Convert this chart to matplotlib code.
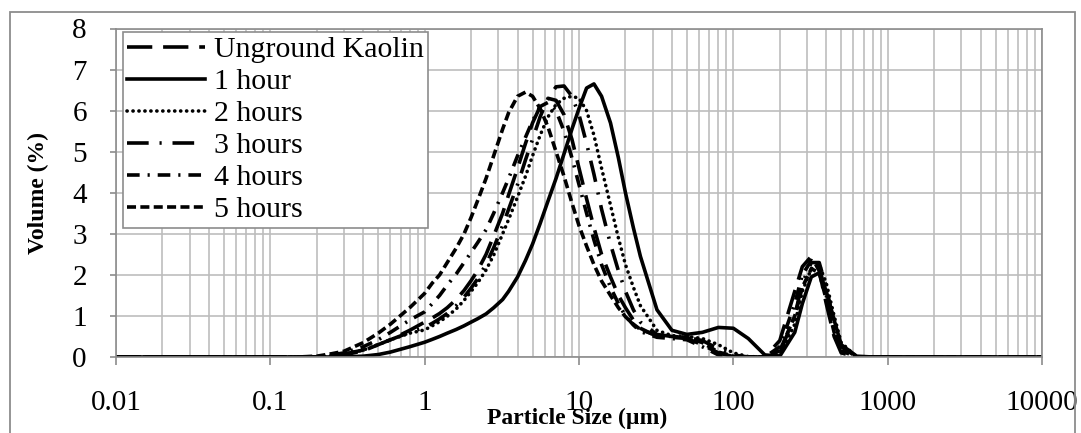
import matplotlib
matplotlib.use("Agg")
import matplotlib.pyplot as plt
from matplotlib.patches import Rectangle

plt.rcParams['font.family'] = ['Liberation Serif', 'DejaVu Serif']

# Particle size grid (µm)
sizes = [0.01, 0.15, 0.2, 0.25, 0.3, 0.4, 0.5, 0.6, 0.8,
         1.0, 1.12, 1.25, 1.4, 1.6, 1.8, 2.0, 2.2, 2.5, 2.8,
         3.2, 3.5, 4.0, 4.5, 5.0, 5.6, 6.3, 7.1, 8.0, 9.0,
         10, 11.2, 12.5, 14, 16, 18, 20, 22.5, 25,
         32, 40, 50, 63, 80, 100, 125, 160, 200, 250,
         280, 320, 360, 400, 450, 500, 630, 800, 10000]

unground = [0, 0, 0, 0.02, 0.05, 0.15, 0.3, 0.42, 0.65,
            0.85, 0.95, 1.06, 1.2, 1.4, 1.62, 1.86, 2.1, 2.5, 2.95,
            3.5, 3.95, 4.6, 5.2, 5.7, 6.1, 6.3, 6.25, 5.9, 5.3,
            4.6, 3.85, 3.15, 2.5, 1.95, 1.5, 1.2, 0.9, 0.7,
            0.5, 0.48, 0.45, 0.3, 0.1, 0.01, 0, 0, 0.4, 1.6,
            2.2, 2.45, 2.1, 1.3, 0.5, 0.1, 0, 0, 0]

hour1 = [0, 0, 0, 0, 0, 0.02, 0.06, 0.12, 0.25,
         0.36, 0.43, 0.5, 0.58, 0.67, 0.76, 0.85, 0.93, 1.05, 1.2,
         1.4, 1.6, 1.95, 2.35, 2.75, 3.25, 3.8, 4.35, 4.95, 5.55,
         6.05, 6.55, 6.65, 6.35, 5.7, 4.85, 4.0, 3.15, 2.45,
         1.15, 0.65, 0.55, 0.6, 0.72, 0.7, 0.45, 0.05, 0.02, 0.6,
         1.3, 1.95, 2.05, 1.6, 0.9, 0.3, 0.02, 0, 0]

hour2 = [0, 0, 0, 0.03, 0.07, 0.17, 0.3, 0.42, 0.58,
         0.66, 0.76, 0.86, 0.99, 1.17, 1.38, 1.6, 1.8, 2.12, 2.48,
         3.0, 3.35, 3.9, 4.4, 4.9, 5.4, 5.85, 6.15, 6.3, 6.35,
         6.3, 6.0, 5.4, 4.6, 3.7, 2.9, 2.25, 1.7, 1.25,
         0.65, 0.52, 0.5, 0.45, 0.3, 0.1, 0.01, 0, 0.05, 0.8,
         1.6, 2.15, 2.25, 1.8, 1.0, 0.35, 0, 0, 0]

hour3 = [0, 0, 0, 0.03, 0.07, 0.17, 0.3, 0.42, 0.6,
         0.72, 0.82, 0.93, 1.06, 1.25, 1.46, 1.68, 1.9, 2.26, 2.66,
         3.2, 3.6, 4.2, 4.8, 5.3, 5.85, 6.3, 6.58, 6.6, 6.35,
         5.9, 5.2, 4.45, 3.6, 2.75, 2.1, 1.6, 1.15, 0.85,
         0.55, 0.5, 0.48, 0.4, 0.2, 0.05, 0, 0, 0.1, 1.0,
         1.8, 2.3, 2.3, 1.7, 0.8, 0.25, 0, 0, 0]

hour4 = [0, 0, 0.01, 0.05, 0.1, 0.25, 0.42, 0.6, 0.9,
         1.1, 1.3, 1.5, 1.75, 2.02, 2.3, 2.55, 2.78, 3.1, 3.5,
         4.0, 4.35, 4.9, 5.35, 5.75, 6.1, 6.2, 6.0, 5.5, 4.85,
         4.2, 3.5, 2.85, 2.25, 1.7, 1.3, 1.0, 0.78, 0.62,
         0.48, 0.45, 0.42, 0.25, 0.05, 0, 0, 0, 0.25, 1.3,
         2.0, 2.35, 2.2, 1.5, 0.7, 0.2, 0, 0, 0]

hour5 = [0, 0, 0.02, 0.08, 0.14, 0.35, 0.58, 0.8, 1.2,
         1.55, 1.8, 2.0, 2.3, 2.65, 3.0, 3.4, 3.8, 4.35, 4.9,
         5.55, 5.95, 6.35, 6.45, 6.35, 6.05, 5.6, 5.0, 4.4, 3.75,
         3.2, 2.7, 2.25, 1.85, 1.5, 1.2, 0.98, 0.8, 0.67,
         0.52, 0.5, 0.48, 0.35, 0.12, 0.02, 0, 0, 0.15, 1.0,
         1.7, 2.15, 2.05, 1.4, 0.6, 0.15, 0, 0, 0]

labels = ['Unground Kaolin', '1 hour', '2 hours', '3 hours', '4 hours', '5 hours']
series = [unground, hour1, hour2, hour3, hour4, hour5]
dashes = [(7, 3), None, (0.05, 1.6), (6, 3, 0.6, 3), (3.5, 2.2, 0.6, 2.2), (2.5, 1.2)]

W, H = 1081, 433
fig = plt.figure(figsize=(W / 100, H / 100), dpi=100)
L, R, T, B = 116, 1042, 28.5, 357
ax = fig.add_axes([L / W, 1 - B / H, (R - L) / W, (B - T) / H])

# outer chart frame
fig.patches.append(Rectangle((10 / W, -0.1), (1075 - 10) / W, 1 - 12 / H + 0.1,
                             transform=fig.transFigure, fill=False,
                             edgecolor='#8c8c8c', linewidth=1.3, zorder=0))

lw = 2.6
for lab, vals, d in zip(labels, series, dashes):
    line, = ax.plot(sizes, vals, color='black', linewidth=lw, label=lab)
    if d is not None:
        line.set_dashes(d)
        if lab == '2 hours':
            line.set_dash_capstyle('round')
        else:
            line.set_dash_capstyle('butt')

ax.set_xscale('log')
ax.set_xlim(0.01, 10000)
ax.set_ylim(0, 8)
ax.set_yticks(range(0, 9))
ax.set_xticks([0.01, 0.1, 1, 10, 100, 1000, 10000])
ax.set_xticklabels(['0.01', '0.1', '1', '10', '100', '1000', '10000'])

gridc = '#bdbdbd'
ax.grid(True, which='major', color=gridc, linewidth=1.2)
ax.grid(True, which='minor', axis='x', color=gridc, linewidth=1.2)
ax.set_axisbelow(True)
for s in ax.spines.values():
    s.set_color('#8c8c8c')
    s.set_linewidth(1.2)

ax.tick_params(axis='x', which='major', direction='out', length=6, width=1.2,
               color='#8c8c8c', labelsize=21, pad=18)
ax.tick_params(axis='x', which='minor', length=0)
ax.tick_params(axis='y', which='major', direction='out', length=4, width=1.2,
               color='#8c8c8c', labelsize=21, pad=17)

ax.set_xlabel('Particle Size (µm)', fontsize=17, fontweight='bold')
ax.set_ylabel('Volume (%)', fontsize=17, fontweight='bold')
ax.xaxis.set_label_coords(0.498, (B - 418) / (B - T))
ax.xaxis.label.set_va('center')
ax.yaxis.set_label_coords((38 - L) / (R - L), 0.5)
ax.yaxis.label.set_va('center')

leg = ax.legend(loc='upper left', bbox_to_anchor=((123 - L) / (R - L), (B - 32) / (B - T)),
                borderaxespad=0, fontsize=21.5, frameon=True, fancybox=False,
                handlelength=2.6, handletextpad=0.3, labelspacing=0.17,
                borderpad=0.15)
leg.get_frame().set_edgecolor('#8c8c8c')
leg.get_frame().set_linewidth(1.2)
leg.get_frame().set_alpha(1)

fig.savefig('out.png', dpi=100)
